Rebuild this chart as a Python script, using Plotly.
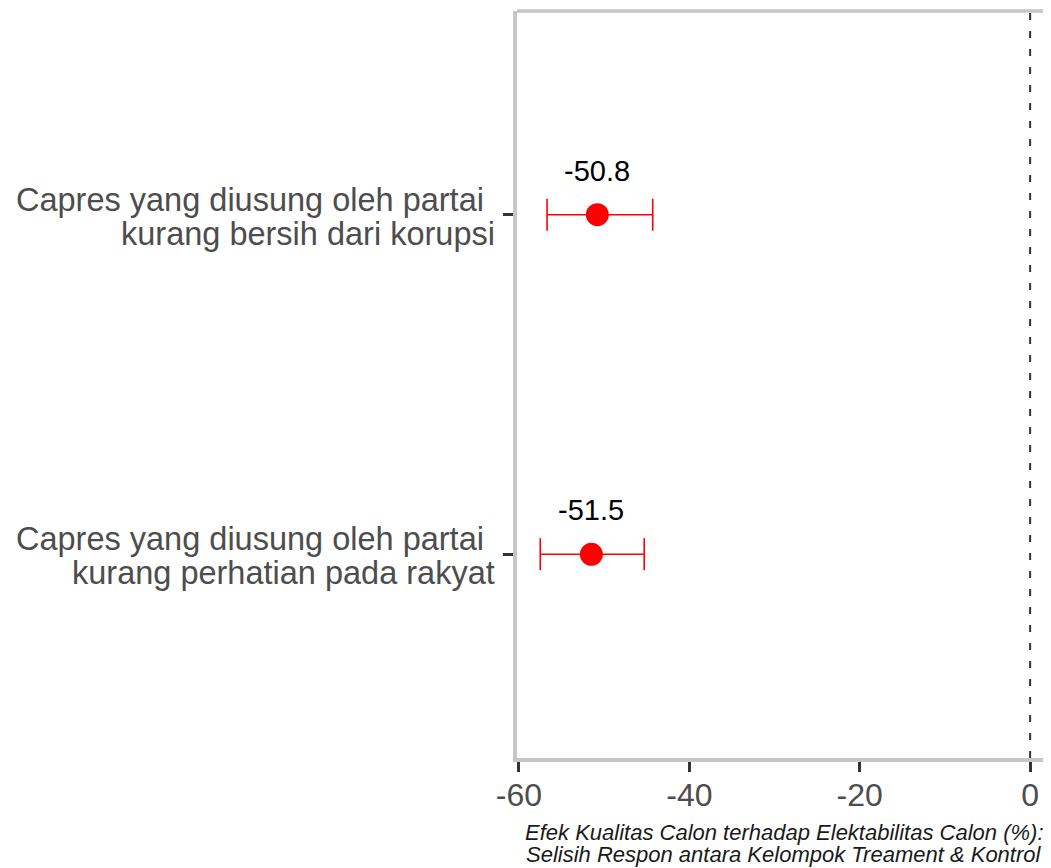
import plotly.graph_objects as go

# data
categories = ["perhatian", "korupsi"]
label_lines = [
    ["Capres yang diusung oleh partai", "kurang perhatian pada rakyat"],
    ["Capres yang diusung oleh partai", "kurang bersih dari korupsi"],
]
estimates = [-51.5, -50.8]
ci_low = [-57.5, -56.7]
ci_high = [-45.3, -44.3]
value_text = ["-51.5", "-50.8"]

x_title = [
    "Efek Kualitas Calon terhadap Elektabilitas Calon (%):",
    "Selisih Respon antara Kelompok Treament & Kontrol",
]

FONT = "Liberation Sans, Arial, sans-serif"
GREY_TXT = "#4d4d4d"
BORDER = "#c6c6c6"

fig = go.Figure()

fig.add_trace(go.Scatter(
    x=estimates,
    y=categories,
    mode="markers",
    marker=dict(color="#ff0000", size=23),
    error_x=dict(
        type="data",
        symmetric=False,
        array=[h - e for h, e in zip(ci_high, estimates)],
        arrayminus=[e - l for e, l in zip(estimates, ci_low)],
        color="#ff0000",
        thickness=1.6,
        width=16,
    ),
    showlegend=False,
    hoverinfo="skip",
))

# value labels above the points
for cat, est, txt in zip(categories, estimates, value_text):
    fig.add_annotation(
        x=est, y=cat, text=txt, showarrow=False, yshift=44,
        font=dict(family=FONT, size=29, color="#000000"),
    )

# y labels as two right-aligned lines (tighter line spacing than tick labels)
for cat, (l1, l2) in zip(categories, label_lines):
    fig.add_annotation(
        x=0, xref="paper", y=cat, text=l1, showarrow=False,
        xanchor="right", yanchor="middle", xshift=-33, yshift=15,
        borderpad=0, borderwidth=0,
        font=dict(family=FONT, size=32.5, color=GREY_TXT),
    )
    fig.add_annotation(
        x=0, xref="paper", y=cat, text=l2, showarrow=False,
        xanchor="right", yanchor="middle", xshift=-22, yshift=-19,
        borderpad=0, borderwidth=0,
        font=dict(family=FONT, size=32.5, color=GREY_TXT),
    )

# dashed zero line
fig.add_shape(
    type="line", x0=0, x1=0, y0=0, y1=1, xref="x", yref="paper",
    line=dict(color="#333333", width=2, dash="7px,11px"),
)
# top border of the panel
fig.add_shape(
    type="line", x0=0, x1=1, y0=1, y1=1, xref="paper", yref="paper",
    line=dict(color=BORDER, width=3.5),
)

# two-line axis title
for i, line in enumerate(x_title):
    fig.add_annotation(
        x=0.5, y=0, xref="paper", yref="paper", text=f"<i>{line}</i>",
        showarrow=False, yanchor="middle", yshift=-74 - 22 * i,
        borderpad=0, borderwidth=0,
        font=dict(family=FONT, size=22, color="#1a1a1a"),
    )

fig.update_xaxes(
    range=[-60.23, 2.45],
    tickvals=[-60, -40, -20, 0],
    ticktext=["-60", "-40", "-20", "0"],
    ticks="outside", ticklen=10, tickwidth=3, tickcolor="#333333",
    ticklabelstandoff=-4,
    showline=True, linecolor=BORDER, linewidth=3.5,
    showgrid=False, zeroline=False,
    tickfont=dict(family=FONT, size=32, color=GREY_TXT),
)
fig.update_yaxes(
    type="category",
    categoryorder="array", categoryarray=categories,
    range=[-0.6, 1.6],
    ticks="outside", ticklen=10, tickwidth=3, tickcolor="#333333",
    showticklabels=False,
    showline=True, linecolor=BORDER, linewidth=3.5,
    showgrid=False, zeroline=False,
)

# the page body has an 8px margin, so the figure is sized to fit the window
fig.update_layout(
    width=1043, height=860,
    margin=dict(l=509, r=0, t=3, b=110),
    plot_bgcolor="white", paper_bgcolor="white",
)

fig.write_html("out.html")
